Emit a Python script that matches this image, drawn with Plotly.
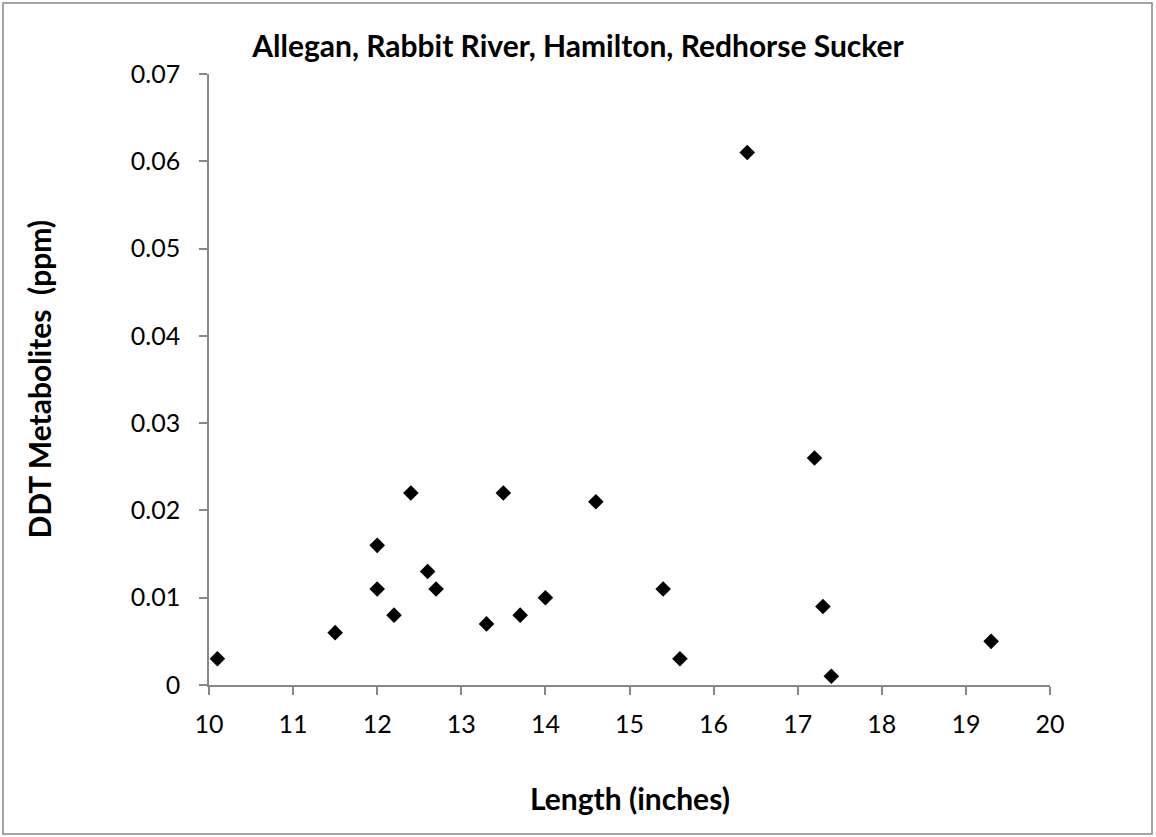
import plotly.graph_objects as go

length_in = [10.1, 11.5, 12.0, 12.0, 12.2, 12.4, 12.6, 12.7, 13.3, 13.5, 13.7, 14.0,
             14.6, 15.4, 15.6, 16.4, 17.2, 17.3, 17.4, 19.3]
ddt_ppm = [0.003, 0.006, 0.016, 0.011, 0.008, 0.022, 0.013, 0.011, 0.007, 0.022, 0.008, 0.010,
           0.021, 0.011, 0.003, 0.061, 0.026, 0.009, 0.001, 0.005]

x_ticks = list(range(10, 21))
y_ticks = [0, 0.01, 0.02, 0.03, 0.04, 0.05, 0.06, 0.07]
y_tick_labels = ["0", "0.01", "0.02", "0.03", "0.04", "0.05", "0.06", "0.07"]

FONT = "Lato, Carlito, Calibri, sans-serif"
W, H = 1156, 837
L, R, T, B = 209, 106, 74, 152
pw, ph = W - L - R, H - T - B

fig = go.Figure(go.Scatter(
    x=length_in, y=ddt_ppm, mode="markers",
    marker=dict(symbol="diamond", size=12, color="black", line=dict(width=0)),
))

axis_common = dict(showgrid=False, zeroline=False, showline=True, linecolor="#888888",
                   linewidth=1.5, ticks="outside", ticklen=8, tickcolor="#888888", tickwidth=1.5,
                   tickfont=dict(family=FONT, size=25, color="black"))
fig.update_xaxes(range=[10, 20], tickvals=x_ticks, ticktext=[str(v) for v in x_ticks],
                 ticklabelstandoff=8, **axis_common)
fig.update_yaxes(range=[0, 0.07], tickvals=y_ticks, ticktext=y_tick_labels,
                 ticklabelstandoff=14, **axis_common)

def px_x(p):
    return (p - L) / pw

def px_y(p):
    return (T + ph - p) / ph

fig.update_layout(
    width=W, height=H, margin=dict(l=L, r=R, t=T, b=B),
    paper_bgcolor="white", plot_bgcolor="white", showlegend=False,
    title=dict(text="<b>Allegan, Rabbit River, Hamilton, Redhorse Sucker</b>",
               x=578 / W, xanchor="center", y=1 - 46 / H, yanchor="middle",
               font=dict(family=FONT, size=30, color="black")),
    annotations=[
        dict(text="<b>Length (inches)</b>", xref="paper", yref="paper",
             x=0.5, y=px_y(798), xanchor="center", yanchor="middle",
             showarrow=False, font=dict(family=FONT, size=30, color="black")),
        dict(text="<b>DDT Metabolites  (ppm)</b>", xref="paper", yref="paper",
             x=px_x(38), y=0.5, xanchor="center", yanchor="middle", textangle=-90,
             showarrow=False, font=dict(family=FONT, size=30, color="black")),
    ],
    shapes=[dict(type="rect", xref="paper", yref="paper",
                 x0=px_x(3), x1=px_x(1152), y0=px_y(834), y1=px_y(3),
                 line=dict(color="#888888", width=1.5), fillcolor="rgba(0,0,0,0)", layer="below")],
)

fig.write_html("out.html", config={"displayModeBar": False},
               post_script="document.body.style.margin='0';document.body.style.overflow='hidden';")
